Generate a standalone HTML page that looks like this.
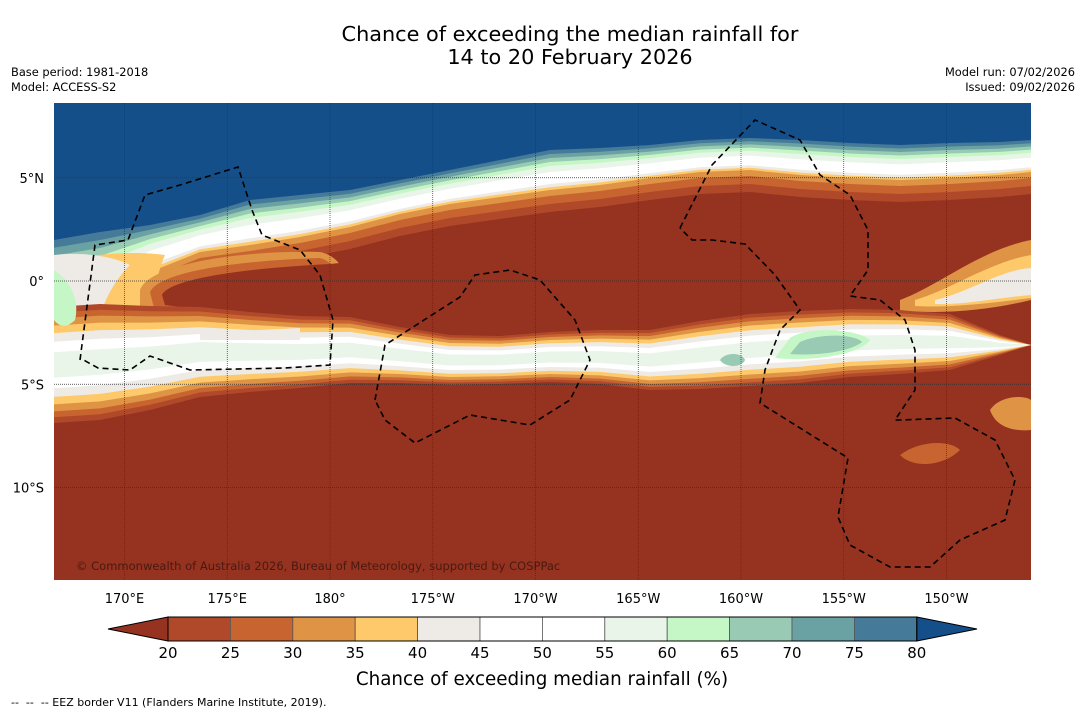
<!DOCTYPE html>
<html><head><meta charset="utf-8"><style>
body{margin:0;background:#fff;width:1085px;height:713px;overflow:hidden;font-family:"DejaVu Sans","Liberation Sans",sans-serif}
svg{position:absolute;left:0;top:0}
</style></head><body>
<svg id="s" width="1085" height="713">
<defs><clipPath id="mc"><rect x="54" y="103" width="977" height="477"/></clipPath></defs>
<text x="570" y="41" text-anchor="middle" font-size="20.8">Chance of exceeding the median rainfall for</text>
<text x="570" y="64" text-anchor="middle" font-size="20.8">14 to 20 February 2026</text>
<text x="11" y="76" font-size="11.4">Base period: 1981-2018</text>
<text x="11" y="91" font-size="11.4">Model: ACCESS-S2</text>
<text x="1075" y="76" font-size="11.4" text-anchor="end">Model run: 07/02/2026</text>
<text x="1075" y="91" font-size="11.4" text-anchor="end">Issued: 09/02/2026</text>
<g id="map" clip-path="url(#mc)"><rect x="54" y="103" width="977" height="477" fill="#953220"/></g>
<g id="grid"></g>
<g id="eez"></g>
<text x="76" y="570" font-size="11.5" fill="#000" fill-opacity="0.5">© Commonwealth of Australia 2026, Bureau of Meteorology, supported by COSPPac</text>
<g id="axes"></g>
<g id="cbar"></g>
<text x="542" y="685" text-anchor="middle" font-size="18.3">Chance of exceeding median rainfall (%)</text>
<text x="11" y="706" font-size="11">-- &#160;-- &#160;-- EEZ border V11 (Flanders Marine Institute, 2019).</text>
</svg>
<script>
const levels=[20,25,30,35,40,45,50,55,60,65,70,75,80];
const colors=["#953220","#b0482a","#c8642f","#df9345","#fdc96a","#eeeae5","#ffffff","#ffffff","#e8f5e8","#c5f7c6","#98cab4","#6aa1a3","#457a99","#154f8a"];
const xs=[54,100,150,200,250,300,350,400,450,500,550,600,650,700,750,800,850,900,950,1000,1031];
const northEdge=[318,312,272,252,245,237,227,214,204,197,190,185,178,172,170,175,178,180,178,175,172];
const blueEdge=[240,232,225,215,200,195,190,180,170,160,150,148,145,140,138,140,143,145,143,142,140];
const southCenter=[365,362,358,352,352,352,350,355,360,360,357,357,360,355,350,347,343,342,342,345,345];
const southHalf=[58,58,52,45,40,36,33,28,25,24,25,27,30,34,36,36,34,32,28,10,0];
const ns="http://www.w3.org/2000/svg";
const map=document.getElementById('map');
function el(parent,tag,attrs){const e=document.createElementNS(ns,tag);for(const k in attrs)e.setAttribute(k,attrs[k]);parent.appendChild(e);return e;}
function lonX(lon){return 330+(lon-180)*20.55;}
function latY(lat){return 281-lat*20.65;}
function pts(arr){return arr.map((y,i)=>xs[i]+','+y.toFixed(1)).join(' ');}
const northOff={20:22,25:14,30:6};
const northFrac={35:0,40:0.07,45:0.15,55:0.45,60:0.6,65:0.7,70:0.8,75:0.9,80:1.0};
levels.forEach((lv,li)=>{
  let curve;
  if(lv in northOff) curve=northEdge.map(y=>y+northOff[lv]);
  else if(lv in northFrac) curve=northEdge.map((y,i)=>y+(blueEdge[i]-y)*northFrac[lv]);
  else return;
  const p=el(map,'polygon',{points:'54,103 '+pts(curve)+' 1031,103',fill:colors[li+1]});
  
  
});
function blob(d,c,name){const p=el(map,'path',{d:d,fill:c});}
blob('M54,262 C90,255 130,250 165,255 C150,290 150,330 180,345 C210,365 200,395 150,405 C110,412 80,414 54,415Z',colors[4],'left-yellow');
blob('M54,255 C80,252 110,255 130,265 C110,285 100,310 95,335 C80,345 60,340 54,335Z',colors[5],'left-white');
blob('M140,290 C150,262 250,250 320,252 C340,256 350,275 345,295 C330,325 260,330 140,318Z',colors[3],'tongue-30');
blob('M150,292 C160,270 250,260 320,258 C335,262 342,278 338,295 C325,320 250,322 155,312Z',colors[2],'tongue-25');
blob('M162,295 C170,278 250,268 330,264 C370,260 400,255 420,255 L420,325 C330,320 230,314 165,305Z',colors[0],'tongue-core');
const southScale={20:1,25:0.9,30:0.8,35:0.68,40:0.55,45:0.4,55:0.22};
levels.forEach((lv,li)=>{
  if(!(lv in southScale))return;
  const s=southScale[lv];
  const top=southCenter.map((c,i)=>c-southHalf[i]*s);
  const bot=southCenter.map((c,i)=>c+southHalf[i]*s);
  const p=el(map,'polygon',{points:pts(top)+' '+bot.map((y,i)=>xs[i]+','+y.toFixed(1)).reverse().join(' '),fill:colors[li+1]});
  
  
});
blob('M54,270 C70,280 80,300 75,320 C65,330 58,325 54,320Z',colors[9],'left-green');
blob('M200,333 L300,328 L300,340 L200,340Z',colors[5],'left-white-2');
blob('M790,338 C810,325 860,330 870,340 C860,355 810,362 775,358Z',colors[9],'green-patch');
blob('M800,342 C820,333 855,334 862,342 C850,352 815,356 790,354Z',colors[10],'teal-patch');
blob('M720,360 C725,352 742,352 745,360 C742,368 725,368 720,360Z',colors[10],'teal-patch-2');
blob('M900,300 C940,285 980,250 1031,240 L1031,300 C990,310 940,315 900,310Z',colors[3],'ne-tongue-30');
blob('M915,300 C950,290 990,262 1031,255 L1031,298 C990,303 950,308 915,306Z',colors[4],'ne-tongue-35');
blob('M935,300 C970,292 1000,270 1031,268 L1031,295 C995,298 965,305 935,304Z',colors[5],'ne-tongue-40');
blob('M900,455 C920,440 950,440 960,450 C945,465 915,470 900,455Z',colors[2],'se-blob');
blob('M990,410 C1000,395 1025,395 1031,400 L1031,430 C1010,432 995,425 990,410Z',colors[3],'se-blob-2');
const grid=document.getElementById('grid');
const lonTicks=[170,175,180,185,190,195,200,205,210];
const lonLabels=["170°E","175°E","180°","175°W","170°W","165°W","160°W","155°W","150°W"];
const latTicks=[5,0,-5,-10];
const latLabels=["5°N","0°","5°S","10°S"];
const axes=document.getElementById('axes');
lonTicks.forEach((l,i)=>{const x=lonX(l);
  el(grid,'line',{x1:x,y1:103,x2:x,y2:580,stroke:'#333','stroke-width':0.7,'stroke-dasharray':'1,1'});
  const t=el(axes,'text',{x:x,y:603,'text-anchor':'middle','font-size':13});t.textContent=lonLabels[i];
  
  });
latTicks.forEach((l,i)=>{const y=latY(l);
  el(grid,'line',{x1:54,y1:y,x2:1031,y2:y,stroke:'#333','stroke-width':0.7,'stroke-dasharray':'1,1'});
  const t=el(axes,'text',{x:44,y:y+5,'text-anchor':'end','font-size':13});t.textContent=latLabels[i];
  
  });
const eez=document.getElementById('eez');
const eezLines=[
 "80,360 95,245 128,240 145,195 180,185 238,167 252,210 262,235 300,250 320,275 333,320 330,365 285,368 190,370 150,356 130,370 98,368 80,358",
 "375,400 385,345 460,297 475,275 510,270 540,280 575,320 590,360 570,400 530,425 470,415 415,443 385,420 375,400",
 "680,228 712,165 755,120 800,140 820,175 850,195 868,230 868,270 850,296 880,300 905,320 915,350 915,390 895,420 900,420 955,418 995,440 1015,480 1005,520 960,540 930,567 890,567 850,545 838,517 848,458 760,403 765,370 780,330 800,310 775,275 745,244 712,240 692,240 680,228"];
eezLines.forEach(p=>{const l=el(eez,'polyline',{points:p,fill:'none',stroke:'#000','stroke-width':1.6,'stroke-dasharray':'6,4'});
  
  });
const cb=document.getElementById('cbar');
const x0=168,bw=62.4,y0=617,h=24;
el(cb,'polygon',{points:`108,629 ${x0},${y0} ${x0},${y0+h}`,fill:colors[0],stroke:'#000','stroke-width':1});
for(let i=0;i<12;i++){const r=el(cb,'rect',{x:x0+i*bw,y:y0,width:bw,height:h,fill:colors[i+1],stroke:'#555','stroke-width':0.8});
  
  }
el(cb,'polygon',{points:`${x0+12*bw},${y0} 977,629 ${x0+12*bw},${y0+h}`,fill:colors[13],stroke:'#000','stroke-width':1});
el(cb,'rect',{x:x0,y:y0,width:12*bw,height:h,fill:'none',stroke:'#000','stroke-width':1});
levels.forEach((lv,i)=>{const t=el(cb,'text',{x:x0+i*bw,y:658,'text-anchor':'middle','font-size':15});t.textContent=lv;
  
  });
</script>
</body></html>
